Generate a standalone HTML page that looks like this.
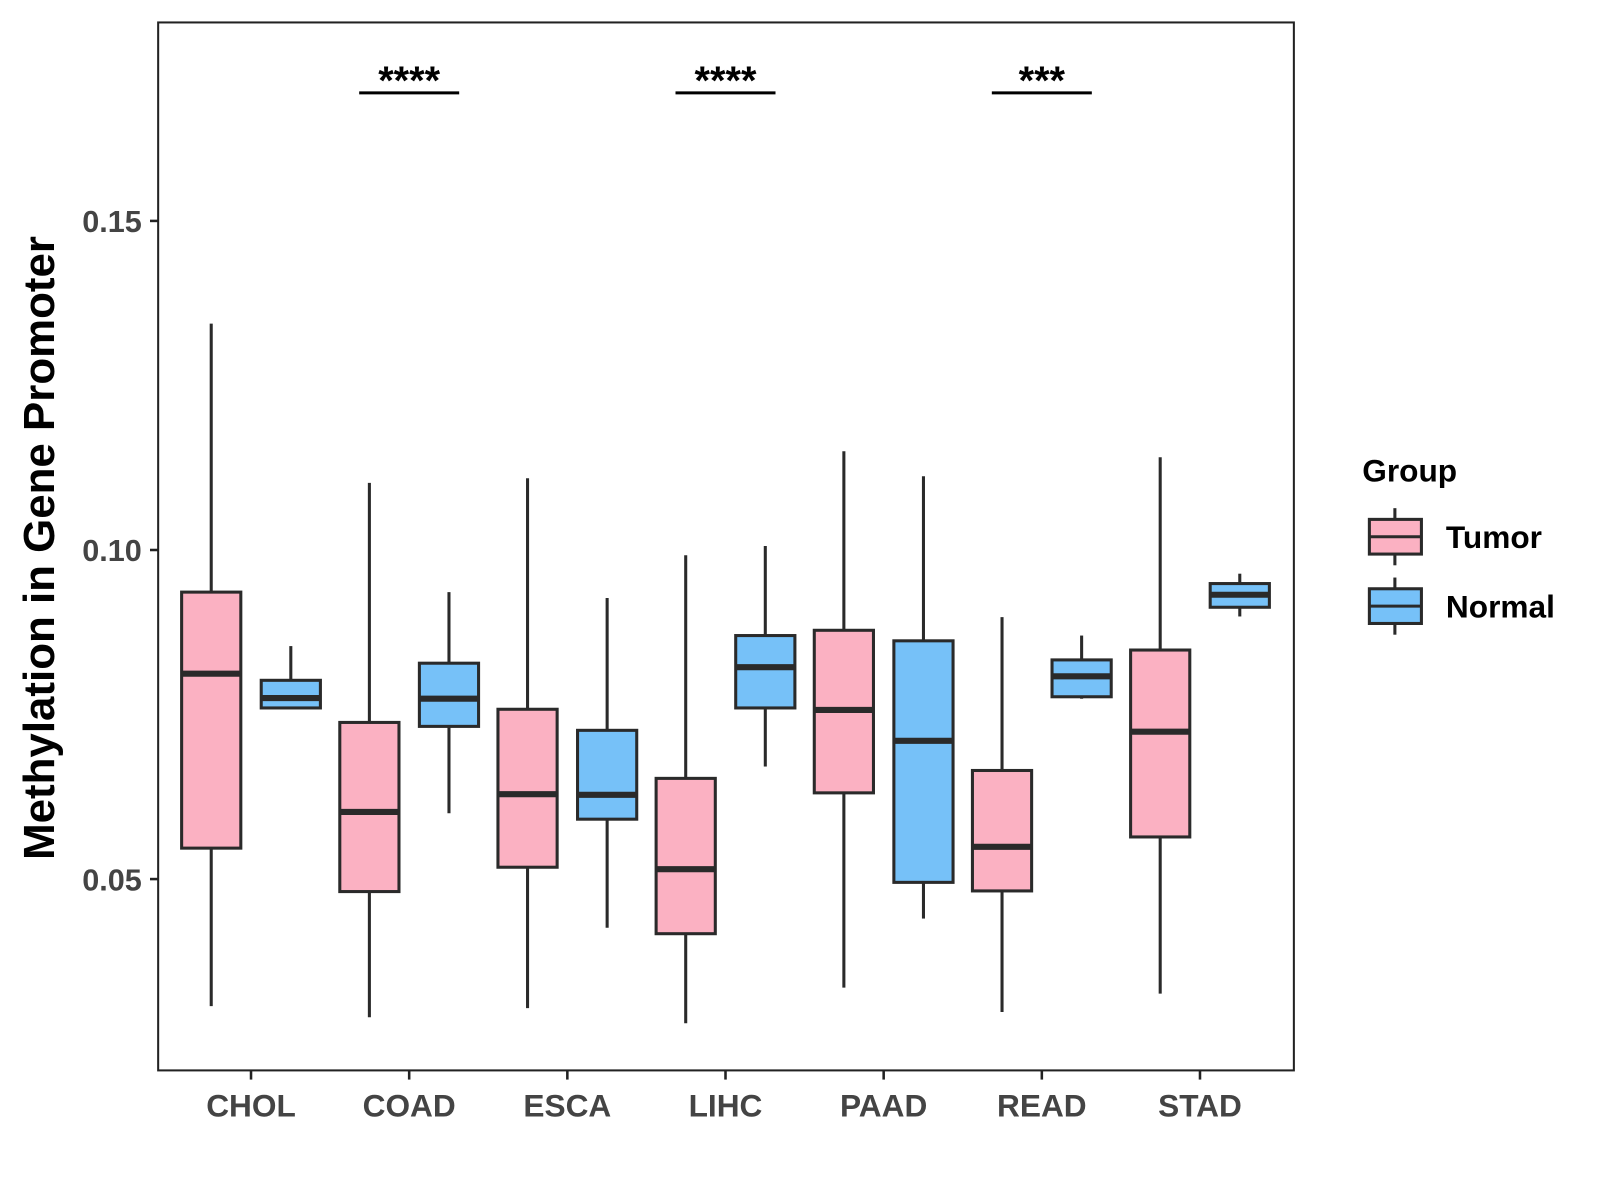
<!DOCTYPE html>
<html><head><meta charset="utf-8"><style>
body{margin:0;background:#fff}
svg{display:block;font-family:"Liberation Sans",Arial,sans-serif}
</style></head><body>
<svg id="chart" width="1600" height="1200" viewBox="0 0 1600 1200">
<rect x="0" y="0" width="1600" height="1200" fill="#fff"/>
<g id="plot" transform="scale(1.0204)"></g>
</svg>
<script>
const categories=["CHOL","COAD","ESCA","LIHC","PAAD","READ","STAD"];
const tumorStats=[
[0.0307,0.0547,0.0812,0.0936,0.1344],
[0.0290,0.0481,0.0602,0.0738,0.1102],
[0.0304,0.0518,0.0629,0.0758,0.1109],
[0.0281,0.0417,0.0515,0.0653,0.0992],
[0.0335,0.0631,0.0757,0.0878,0.1150],
[0.0298,0.0482,0.0549,0.0665,0.0898],
[0.0326,0.0564,0.0724,0.0848,0.1141]];
const normalStats=[
[0.0760,0.0760,0.0775,0.0802,0.0854],
[0.0600,0.0732,0.0774,0.0828,0.0936],
[0.0426,0.0591,0.0628,0.0726,0.0927],
[0.0671,0.0760,0.0822,0.0870,0.1006],
[0.0440,0.0495,0.0710,0.0862,0.1112],
[0.0774,0.0777,0.0808,0.0833,0.0870],
[0.0899,0.0913,0.0932,0.0949,0.0964]];
const yTicks=[0.05,0.10,0.15];
const yTickLabels=["0.05","0.10","0.15"];
const sigCats=["COAD","LIHC","READ"];
const sigLabels=["****","****","***"];

const NS="http://www.w3.org/2000/svg";
const g=document.getElementById("plot");
const X0=155,X1=1268,Y0=22,Y1=1049;
function y(v){return 539-(v-0.10)*6450;}
function x(i){return 246+i*155;}
function el(t,a,p){const e=document.createElementNS(NS,t);for(const k in a)e.setAttribute(k,a[k]);(p||g).appendChild(e);return e;}
function txt(s,a){const e=el("text",a);e.textContent=s;return e;}

const panel=el("rect",{x:X0,y:Y0,width:X1-X0,height:Y1-Y0,fill:"none",stroke:"#222","stroke-width":2});



yTicks.forEach((v,i)=>{
  const t=el("line",{x1:X0-8,x2:X0,y1:y(v),y2:y(v),stroke:"#222","stroke-width":2.5});
  
  
  const l=txt(yTickLabels[i],{x:X0-16,y:y(v)+11,"text-anchor":"end","font-size":30,"font-weight":"bold",fill:"#444"});
  
  
});

function box(s,cx,fill,name){
  const w=58;
  const grp=el("g",{});
  
  
  el("line",{x1:cx,x2:cx,y1:y(s[4]),y2:y(s[3]),stroke:"#2a2a2a","stroke-width":3},grp);
  el("line",{x1:cx,x2:cx,y1:y(s[1]),y2:y(s[0]),stroke:"#2a2a2a","stroke-width":3},grp);
  el("rect",{x:cx-w/2,y:y(s[3]),width:w,height:Math.max(1,y(s[1])-y(s[3])),fill:fill,stroke:"#2a2a2a","stroke-width":3},grp);
  el("line",{x1:cx-w/2,x2:cx+w/2,y1:y(s[2]),y2:y(s[2]),stroke:"#2a2a2a","stroke-width":6},grp);
}

categories.forEach((c,i)=>{
  box(tumorStats[i],x(i)-39,"#FBB1C2","box-tumor-"+c.toLowerCase());
  box(normalStats[i],x(i)+39,"#76C1F8","box-normal-"+c.toLowerCase());
  const t=el("line",{x1:x(i),x2:x(i),y1:Y1,y2:Y1+9,stroke:"#222","stroke-width":2.5});
  
  
  const l=txt(c,{x:x(i),y:1094,"text-anchor":"middle","font-size":31,"font-weight":"bold",fill:"#444"});
  
  
});

sigCats.forEach((c,j)=>{
  const i=categories.indexOf(c);
  const ln=el("line",{x1:x(i)-49,x2:x(i)+49,y1:91,y2:91,stroke:"#000","stroke-width":3});
  
  
  const t=txt(sigLabels[j],{x:x(i),y:92,"text-anchor":"middle","font-size":39,"font-weight":"bold",fill:"#000"});
  
  
});

const yt=txt("Methylation in Gene Promoter",{x:0,y:0,transform:"translate(53,537) rotate(-90)","text-anchor":"middle","font-size":43,"font-weight":"bold",fill:"#000"});



const lt=txt("Group",{x:1335,y:472,"font-size":31,"font-weight":"bold",fill:"#000"});


[["Tumor","#FBB1C2",526],["Normal","#76C1F8",594]].forEach(([n,f,cy])=>{
  const lg=el("g",{});
  
  
  el("line",{x1:1367,x2:1367,y1:cy-28,y2:cy+28,stroke:"#2a2a2a","stroke-width":3},lg);
  el("rect",{x:1342,y:cy-17,width:51,height:34,fill:f,stroke:"#2a2a2a","stroke-width":3},lg);
  el("line",{x1:1342,x2:1393,y1:cy,y2:cy,stroke:"#2a2a2a","stroke-width":3},lg);
  const t=el("text",{x:1417,y:cy+11,"font-size":31,"font-weight":"bold",fill:"#000"},lg);
  t.textContent=n;
});
</script>
</body></html>
